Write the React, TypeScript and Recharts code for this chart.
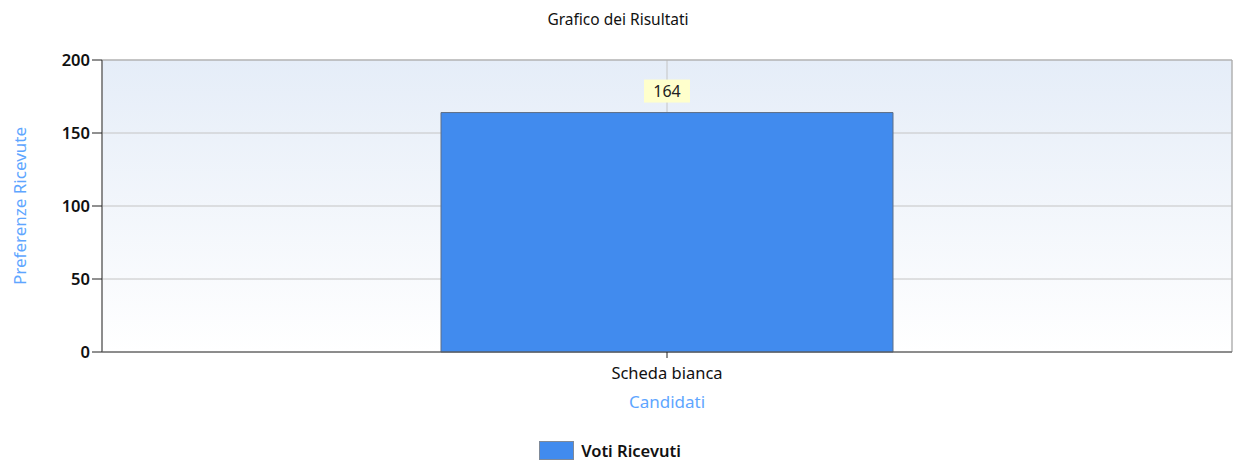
import { BarChart, Bar, XAxis, YAxis, CartesianGrid, Legend, LabelList, ReferenceArea } from "recharts";

const candidati = ["Scheda bianca"];
const voti = [164];
const yTicks = [0, 50, 100, 150, 200];

const data = candidati.map((name, i) => ({ name, voti: voti[i] }));

const FONT = "'Noto Sans', 'DejaVu Sans', sans-serif";

const ValueLabel = (props: any) => {
    const { x, y, width, value } = props;
    const cx = x + width / 2;
    const w = 46;
    const h = 23;
    return (
        <g>
            <rect x={cx - w / 2} y={y - 33} width={w} height={h} fill="#ffffcc" />
            <text x={cx} y={y - 16} textAnchor="middle" fontSize={16} fill="#222" fontFamily={FONT}>
                {value}
            </text>
        </g>
    );
};

const LegendContent = () => (
    <div style={{ display: "flex", justifyContent: "center", alignItems: "center", height: 36, fontFamily: FONT, paddingRight: 12 }}>
        <span style={{ width: 33, height: 17, background: "#418bee", border: "1px solid #7f8a99", marginRight: 7, display: "inline-block" }} />
        <span style={{ fontSize: 16.5, fontWeight: 600, color: "#111" }}>Voti Ricevuti</span>
    </div>
);

export default function App() {
    return (
        <div style={{ position: "absolute", left: 0, top: 0, width: 1236, height: 468, background: "#fff" }}>
            <div style={{ position: "absolute", top: 8, width: 1236, textAlign: "center", fontFamily: FONT, fontSize: 15.5, color: "#111" }}>
                Grafico dei Risultati
            </div>
            <BarChart
                width={1236}
                height={468}
                data={data}
                margin={{ top: 60, right: 4, left: 0, bottom: 0 }}
                barCategoryGap="30%"
            >
                <defs>
                    <linearGradient id="plotBg" x1="0" y1="0" x2="0" y2="1">
                        <stop offset="0%" stopColor="#e5edf8" />
                        <stop offset="100%" stopColor="#ffffff" />
                    </linearGradient>
                </defs>
                <CartesianGrid fill="url(#plotBg)" stroke="#c4c4c4" strokeWidth={1} />
                <ReferenceArea y1={0} y2={200} fill="none" stroke="#a9a9a9" strokeWidth={1} ifOverflow="visible" />
                <XAxis
                    dataKey="name"
                    stroke="#555"
                    tickLine={{ stroke: "#222" }}
                    tickSize={6}
                    tick={{ fill: "#111", fontSize: 16.5, fontFamily: FONT, dy: 7 }}
                    height={80}
                    label={{ value: "Candidati", position: "insideTop", offset: 44, fill: "#5ea6ff", fontSize: 17, fontFamily: FONT }}
                />
                <YAxis
                    domain={[0, 200]}
                    ticks={yTicks}
                    width={102}
                    stroke="#555"
                    tickLine={{ stroke: "#222" }}
                    tickSize={10}
                    tick={{ fill: "#111", fontSize: 16.5, fontWeight: 600, fontFamily: FONT }}
                    label={{ value: "Preferenze Ricevute", angle: -90, position: "insideLeft", offset: 20, fill: "#5ea6ff", fontSize: 17, fontFamily: FONT, style: { textAnchor: "middle" } }}
                />
                <Legend verticalAlign="bottom" height={36} content={<LegendContent />} />
                <Bar dataKey="voti" name="Voti Ricevuti" fill="#418bee" stroke="#5f6f85" strokeWidth={1} isAnimationActive={false}>
                    <LabelList dataKey="voti" content={<ValueLabel />} />
                </Bar>
            </BarChart>
        </div>
    );
}
